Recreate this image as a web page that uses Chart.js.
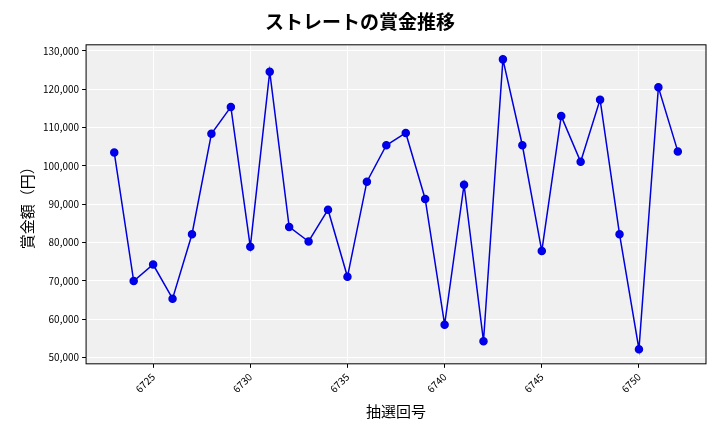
<!DOCTYPE html>
<html>
<head>
<meta charset="utf-8">
<script src="https://cdn.jsdelivr.net/npm/chart.js@4"></script>
<style>
  body { margin: 0; background: #fff; }
</style>
</head>
<body>
<canvas id="myChart" width="720" height="432"></canvas>
<script>
const draws = [6723, 6724, 6725, 6726, 6727, 6728, 6729, 6730, 6731, 6732, 6733, 6734, 6735, 6736, 6737,
    6738, 6739, 6740, 6741, 6742, 6743, 6744, 6745, 6746, 6747, 6748, 6749, 6750, 6751, 6752];
const prizes = [103500, 70000, 74300, 65400, 82200, 108400, 115400, 78900, 124600, 84100, 80300, 88600, 71100, 95900, 105400,
    108600, 91400, 58600, 95100, 54300, 127800, 105400, 77800, 113000, 101100, 117300, 82200, 52200, 120500, 103800];

const font = "'Noto Sans CJK JP', 'Noto Sans', sans-serif";

const plotBg = {
    id: 'plotBg',
    beforeDraw(chart) {
        const { ctx, chartArea: a } = chart;
        ctx.save();
        ctx.fillStyle = '#f0f0f0';
        ctx.fillRect(a.left, a.top, a.right - a.left, a.bottom - a.top);
        ctx.restore();
    },
    afterDraw(chart) {
        const { ctx, chartArea: a } = chart;
        ctx.save();
        ctx.strokeStyle = '#000';
        ctx.lineWidth = 1;
        ctx.strokeRect(a.left, a.top, a.right - a.left, a.bottom - a.top);
        ctx.restore();
    }
};

const ctx = document.getElementById('myChart');
const myChart = new Chart(ctx, {
    type: 'line',
    data: {
        datasets: [{
            data: draws.map((d, i) => ({ x: d, y: prizes[i] })),
            borderColor: '#0000dd',
            backgroundColor: '#0000ee',
            borderWidth: 1.5,
            pointRadius: 3.5,
            pointHoverRadius: 3.5,
            tension: 0
        }]
    },
    options: {
        responsive: false,
        animation: false,
        devicePixelRatio: 1,
        layout: { padding: { left: 14, right: 14, top: 4, bottom: 8 } },
        plugins: {
            legend: { display: false },
            tooltip: { enabled: false },
            title: {
                display: true,
                text: 'ストレートの賞金推移',
                font: { family: font, size: 19, weight: 'bold' },
                color: '#000',
                padding: { top: 6, bottom: 12 }
            }
        },
        scales: {
            x: {
                type: 'linear',
                min: 6721.55,
                max: 6753.45,
                afterBuildTicks(axis) {
                    axis.ticks = [6725, 6730, 6735, 6740, 6745, 6750].map(v => ({ value: v }));
                },
                ticks: {
                    maxRotation: 45, minRotation: 45,
                    font: { family: font, size: 10 }, color: '#000',
                    callback: v => String(v)
                },
                grid: { color: '#ffffff', lineWidth: 1, tickColor: '#000', tickLength: 4 },
                border: { display: false },
                title: {
                    display: true, text: '抽選回号',
                    font: { family: font, size: 15 }, color: '#000'
                }
            },
            y: {
                min: 48400,
                max: 131600,
                afterBuildTicks(axis) {
                    const t = [];
                    for (let v = 50000; v <= 130000; v += 10000) t.push({ value: v });
                    axis.ticks = t;
                },
                ticks: {
                    font: { family: font, size: 10 }, color: '#000',
                    callback: v => v.toLocaleString('en-US')
                },
                grid: { color: '#ffffff', lineWidth: 1, tickColor: '#000', tickLength: 4 },
                border: { display: false },
                title: {
                    display: true, text: '賞金額（円）',
                    font: { family: font, size: 15 }, color: '#000'
                }
            }
        }
    },
    plugins: [plotBg]
});
</script>
</body>
</html>
